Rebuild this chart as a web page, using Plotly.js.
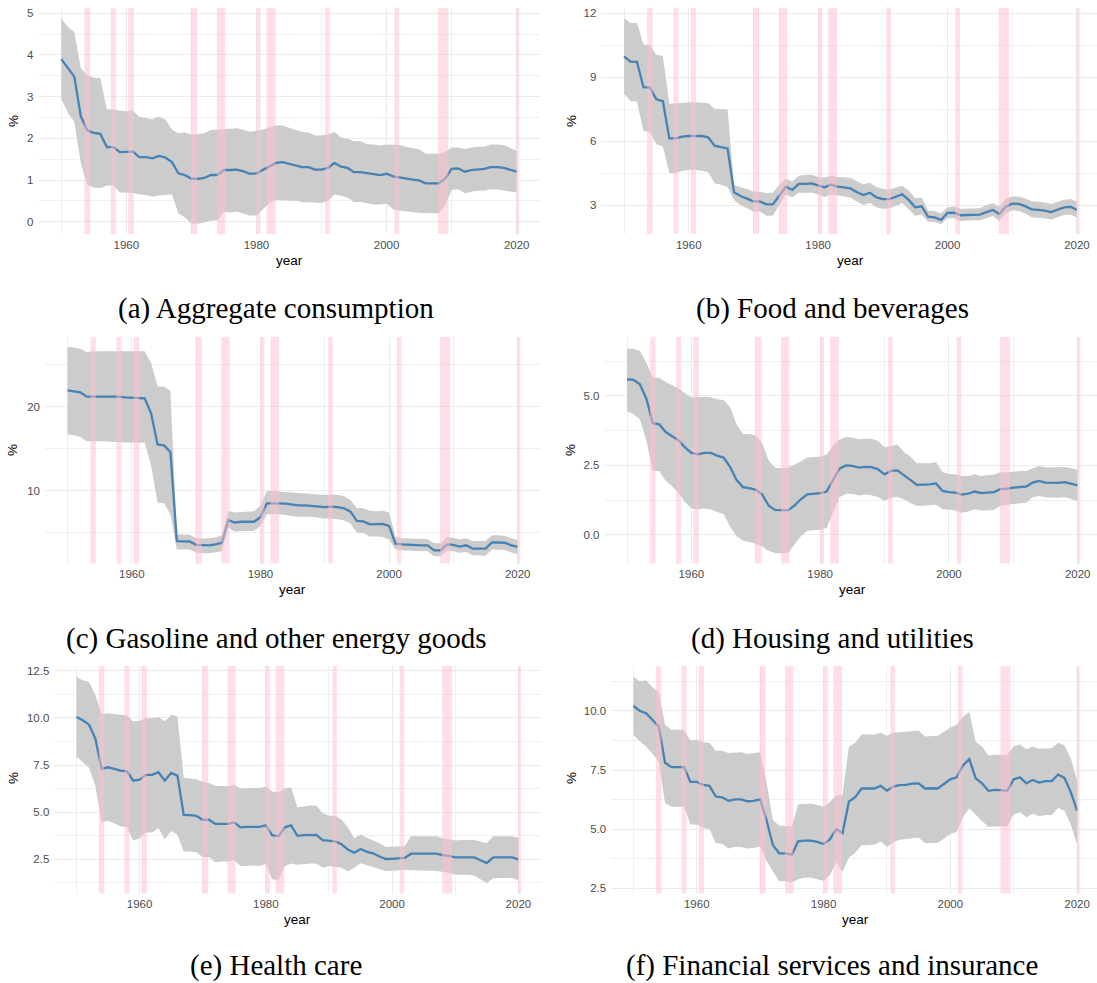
<!DOCTYPE html>
<html>
<head>
<meta charset="utf-8">
<script src="https://cdn.plot.ly/plotly-3.0.1.min.js"></script>
<style>
  html, body { margin: 0; padding: 0; background: #ffffff; }
  #chart { width: 1097px; height: 983px; }
</style>
</head>
<body>
<div id="chart"></div>
<script>
// Annual estimates 1950-2020 with confidence band, six spending categories
const years = [];
for (let y = 1950; y <= 2020; y++) years.push(y);

// NBER recession periods (fractional years)
const recStart = [1953.55, 1957.62, 1960.28, 1969.92, 1973.92, 1980.0, 1981.55, 1990.55, 2001.2, 2007.92, 2019.95];
const recEnd   = [1954.42, 1958.38, 1961.15, 1970.88, 1975.22, 1980.62, 1982.92, 1991.25, 2001.92, 2009.5, 2020.4];

// (a) Aggregate consumption
const aggMean = [3.9, 3.68, 3.48, 2.53, 2.19, 2.13, 2.11, 1.79, 1.79, 1.67,
  1.67, 1.68, 1.55, 1.55, 1.52, 1.58, 1.54, 1.43, 1.16, 1.12,
  1.03, 1.03, 1.05, 1.12, 1.12, 1.24, 1.24, 1.25, 1.21, 1.15,
  1.16, 1.25, 1.33, 1.41, 1.43, 1.39, 1.35, 1.31, 1.31, 1.25,
  1.25, 1.29, 1.41, 1.32, 1.29, 1.19, 1.19, 1.16, 1.14, 1.12,
  1.15, 1.09, 1.06, 1.04, 1.01, 0.99, 0.92, 0.92, 0.92, 1.03,
  1.27, 1.28, 1.2, 1.24, 1.25, 1.27, 1.31, 1.31, 1.29, 1.24, 1.2];
const aggHi = [4.88, 4.67, 4.56, 3.68, 3.52, 3.46, 3.45, 2.69, 2.7, 2.66,
  2.65, 2.67, 2.51, 2.49, 2.46, 2.52, 2.45, 2.21, 2.12, 2.14,
  2.1, 2.1, 2.13, 2.2, 2.21, 2.22, 2.23, 2.24, 2.2, 2.16,
  2.18, 2.21, 2.26, 2.31, 2.31, 2.26, 2.2, 2.15, 2.14, 2.07,
  2.07, 2.1, 2.15, 2.02, 1.99, 1.93, 1.93, 1.86, 1.85, 1.83,
  1.85, 1.85, 1.84, 1.8, 1.76, 1.74, 1.63, 1.63, 1.63, 1.68,
  1.78, 1.78, 1.74, 1.78, 1.8, 1.8, 1.85, 1.85, 1.84, 1.77, 1.7];
const aggLo = [2.95, 2.62, 2.4, 1.4, 0.88, 0.82, 0.8, 0.87, 0.86, 0.7,
  0.7, 0.69, 0.65, 0.64, 0.6, 0.63, 0.64, 0.66, 0.2, 0.1,
  -0.05, -0.05, -0.02, 0.02, 0.04, 0.24, 0.22, 0.24, 0.2, 0.15,
  0.15, 0.3, 0.45, 0.52, 0.52, 0.51, 0.5, 0.47, 0.47, 0.46,
  0.45, 0.5, 0.65, 0.62, 0.58, 0.47, 0.47, 0.44, 0.41, 0.41,
  0.43, 0.3, 0.26, 0.25, 0.23, 0.21, 0.2, 0.2, 0.2, 0.4,
  0.76, 0.78, 0.68, 0.72, 0.74, 0.74, 0.77, 0.77, 0.75, 0.72, 0.7];

// (b) Food and beverages
const foodMean = [9.98, 9.73, 9.72, 8.53, 8.51, 7.96, 7.88, 6.13, 6.13, 6.21,
  6.24, 6.24, 6.24, 6.18, 5.79, 5.72, 5.66, 3.6, 3.42, 3.3,
  3.17, 3.17, 3.03, 3.03, 3.47, 3.86, 3.71, 3.99, 3.99, 4.02,
  3.92, 3.83, 3.96, 3.86, 3.83, 3.78, 3.6, 3.47, 3.58, 3.36,
  3.28, 3.28, 3.39, 3.5, 3.24, 2.89, 2.94, 2.45, 2.42, 2.3,
  2.63, 2.64, 2.52, 2.53, 2.53, 2.55, 2.67, 2.77, 2.58, 2.92,
  3.06, 3.05, 2.95, 2.8, 2.77, 2.74, 2.67, 2.77, 2.89, 2.92, 2.77];
const foodHi = [11.77, 11.55, 11.55, 10.55, 10.5, 10.05, 10.0, 7.75, 7.77, 7.8,
  7.82, 7.82, 7.8, 7.78, 7.52, 7.5, 7.48, 3.95, 3.83, 3.75,
  3.63, 3.62, 3.55, 3.58, 3.95, 4.25, 4.1, 4.38, 4.42, 4.42,
  4.32, 4.28, 4.38, 4.32, 4.3, 4.28, 4.12, 3.98, 4.05, 3.85,
  3.75, 3.73, 3.82, 3.9, 3.68, 3.32, 3.35, 2.73, 2.72, 2.6,
  2.9, 2.93, 2.82, 2.83, 2.83, 2.85, 3.0, 3.08, 2.93, 3.3,
  3.4, 3.4, 3.32, 3.18, 3.15, 3.12, 3.05, 3.15, 3.25, 3.28, 3.15];
const foodLo = [8.22, 7.88, 7.85, 6.48, 6.42, 5.85, 5.75, 4.5, 4.5, 4.6,
  4.66, 4.66, 4.62, 4.55, 4.02, 3.95, 3.85, 3.22, 3.0, 2.85,
  2.7, 2.7, 2.5, 2.5, 3.0, 3.5, 3.35, 3.58, 3.58, 3.58,
  3.5, 3.38, 3.5, 3.45, 3.4, 3.35, 3.15, 3.0, 3.1, 2.9,
  2.82, 2.85, 2.95, 3.1, 2.82, 2.5, 2.55, 2.22, 2.2, 2.1,
  2.38, 2.38, 2.25, 2.28, 2.28, 2.28, 2.38, 2.48, 2.25, 2.6,
  2.75, 2.72, 2.6, 2.42, 2.4, 2.38, 2.32, 2.42, 2.53, 2.55, 2.4];

// (c) Gasoline and other energy goods
const gasMean = [21.94, 21.85, 21.7, 21.2, 21.2, 21.2, 21.25, 21.2, 21.2, 21.1,
  21.05, 21.05, 21.0, 19.2, 15.5, 15.4, 14.6, 4.0, 3.95, 3.95,
  3.55, 3.5, 3.5, 3.6, 3.8, 6.5, 6.2, 6.3, 6.3, 6.3,
  6.85, 8.5, 8.5, 8.5, 8.45, 8.35, 8.25, 8.25, 8.2, 8.15,
  8.05, 8.1, 8.05, 7.9, 7.5, 6.4, 6.35, 6.0, 6.0, 6.05,
  5.8, 3.7, 3.6, 3.55, 3.55, 3.5, 3.5, 2.9, 2.9, 3.6,
  3.55, 3.35, 3.5, 3.1, 3.1, 3.1, 3.85, 3.85, 3.8, 3.5, 3.3];
const gasHi = [27.1, 27.05, 26.9, 26.5, 26.6, 26.6, 26.6, 26.6, 26.6, 26.6,
  26.6, 26.6, 26.6, 25.2, 22.4, 22.4, 21.9, 4.8, 4.75, 4.75,
  4.35, 4.3, 4.35, 4.45, 4.65, 7.6, 7.4, 7.45, 7.45, 7.55,
  8.2, 9.95, 9.95, 9.9, 9.85, 9.75, 9.7, 9.7, 9.65, 9.6,
  9.5, 9.55, 9.5, 9.35, 8.9, 7.95, 7.9, 7.6, 7.55, 7.6,
  7.4, 4.5, 4.35, 4.3, 4.3, 4.25, 4.25, 3.75, 3.75, 4.45,
  4.4, 4.2, 4.35, 4.0, 4.0, 4.0, 4.7, 4.7, 4.6, 4.35, 4.1];
const gasLo = [16.7, 16.6, 16.4, 15.9, 15.9, 15.9, 15.9, 15.8, 15.8, 15.75,
  15.7, 15.7, 15.7, 13.0, 8.6, 8.5, 7.2, 3.0, 3.0, 3.0,
  2.65, 2.55, 2.55, 2.65, 2.8, 5.6, 5.1, 5.2, 5.2, 5.2,
  5.8, 7.2, 7.2, 7.2, 7.1, 7.0, 6.9, 6.9, 6.9, 6.8,
  6.7, 6.7, 6.6, 6.45, 6.1, 5.0, 4.95, 4.55, 4.55, 4.5,
  4.2, 3.0, 2.9, 2.85, 2.85, 2.8, 2.8, 2.2, 2.2, 2.85,
  2.8, 2.6, 2.7, 2.3, 2.3, 2.25, 3.0, 3.0, 2.95, 2.65, 2.45];

// (d) Housing and utilities
const houseMean = [5.6, 5.58, 5.42, 4.9, 4.02, 3.98, 3.7, 3.55, 3.4, 3.15,
  2.95, 2.9, 2.95, 2.95, 2.85, 2.78, 2.45, 1.98, 1.72, 1.68,
  1.62, 1.45, 1.05, 0.9, 0.88, 0.88, 1.05, 1.28, 1.46, 1.48,
  1.5, 1.56, 1.98, 2.38, 2.5, 2.48, 2.42, 2.45, 2.44, 2.36,
  2.18, 2.3, 2.32, 2.16, 1.98, 1.8, 1.8, 1.82, 1.85, 1.58,
  1.54, 1.52, 1.45, 1.48, 1.56, 1.5, 1.52, 1.54, 1.65, 1.66,
  1.7, 1.72, 1.74, 1.88, 1.94, 1.88, 1.87, 1.87, 1.9, 1.84, 1.78];
const houseHi = [6.7, 6.7, 6.62, 6.2, 5.65, 5.65, 5.5, 5.38, 5.28, 5.1,
  4.95, 4.95, 4.97, 4.95, 4.88, 4.85, 4.6, 3.98, 3.63, 3.63,
  3.58, 3.3, 2.68, 2.42, 2.4, 2.42, 2.52, 2.65, 2.78, 2.8,
  2.82, 2.88, 3.22, 3.42, 3.52, 3.5, 3.44, 3.46, 3.46, 3.38,
  3.15, 3.2, 3.25, 2.98, 2.82, 2.58, 2.58, 2.58, 2.62, 2.25,
  2.2, 2.18, 2.12, 2.12, 2.18, 2.12, 2.15, 2.16, 2.25, 2.24,
  2.27, 2.3, 2.3, 2.4, 2.48, 2.42, 2.42, 2.42, 2.44, 2.4, 2.34];
const houseLo = [4.45, 4.35, 4.15, 3.4, 2.3, 2.3, 1.95, 1.75, 1.5, 1.18,
  0.95, 0.92, 0.95, 0.92, 0.82, 0.75, 0.3, -0.05, -0.2, -0.25,
  -0.32, -0.42, -0.58, -0.65, -0.66, -0.65, -0.35, -0.05, 0.15, 0.17,
  0.18, 0.25, 0.8, 1.35, 1.48, 1.47, 1.42, 1.45, 1.43, 1.35,
  1.22, 1.34, 1.36, 1.28, 1.15, 1.05, 1.05, 1.06, 1.08, 0.92,
  0.9, 0.88, 0.8, 0.84, 0.92, 0.88, 0.88, 0.9, 1.05, 1.08,
  1.12, 1.14, 1.16, 1.35, 1.4, 1.35, 1.34, 1.34, 1.36, 1.28, 1.22];

// (e) Health care
const healthMean = [10.05, 9.87, 9.64, 8.9, 7.3, 7.38, 7.3, 7.2, 7.17, 6.67,
  6.72, 6.98, 6.98, 7.12, 6.67, 7.08, 6.94, 4.86, 4.85, 4.8,
  4.6, 4.6, 4.38, 4.38, 4.38, 4.46, 4.2, 4.22, 4.22, 4.22,
  4.3, 3.78, 3.72, 4.2, 4.3, 3.75, 3.78, 3.8, 3.8, 3.52,
  3.48, 3.45, 3.3, 3.02, 2.85, 3.05, 2.9, 2.82, 2.65, 2.52,
  2.53, 2.55, 2.58, 2.8, 2.8, 2.8, 2.8, 2.8, 2.72, 2.68,
  2.6, 2.6, 2.6, 2.6, 2.45, 2.3, 2.6, 2.6, 2.6, 2.6, 2.5];
const healthHi = [12.2, 12.0, 11.9, 11.2, 10.2, 10.25, 10.2, 10.15, 10.12, 9.82,
  9.85, 9.98, 9.98, 10.05, 9.82, 10.15, 10.08, 6.82, 6.8, 6.75,
  6.6, 6.55, 6.4, 6.38, 6.38, 6.45, 6.25, 6.28, 6.28, 6.28,
  6.35, 6.1, 6.05, 6.25, 6.32, 5.25, 5.3, 5.35, 5.35, 4.95,
  4.82, 4.8, 4.6, 4.2, 3.62, 3.82, 3.65, 3.52, 3.35, 3.15,
  3.15, 3.18, 3.2, 3.72, 3.72, 3.72, 3.72, 3.72, 3.62, 3.55,
  3.5, 3.52, 3.52, 3.52, 3.45, 3.35, 3.72, 3.72, 3.72, 3.72, 3.65];
const healthLo = [7.95, 7.65, 7.35, 6.4, 4.45, 4.55, 4.4, 4.25, 4.22, 3.5,
  3.6, 3.92, 3.92, 4.15, 3.55, 4.0, 3.8, 2.92, 2.92, 2.88,
  2.62, 2.62, 2.35, 2.38, 2.38, 2.45, 2.15, 2.18, 2.18, 2.15,
  2.25, 1.45, 1.38, 2.15, 2.28, 2.22, 2.25, 2.28, 2.28, 2.05,
  2.15, 2.12, 2.05, 1.85, 2.05, 2.3, 2.2, 2.12, 1.98, 1.88,
  1.88, 1.9, 1.95, 1.92, 1.9, 1.9, 1.9, 1.9, 1.82, 1.78,
  1.68, 1.68, 1.68, 1.65, 1.45, 1.25, 1.5, 1.52, 1.52, 1.52, 1.38];

// (f) Financial services and insurance
const finMean = [10.21, 10.01, 9.9, 9.62, 9.34, 7.81, 7.62, 7.62, 7.62, 7.0,
  7.0, 6.87, 6.83, 6.38, 6.35, 6.2, 6.26, 6.26, 6.18, 6.2,
  6.26, 5.39, 4.33, 3.98, 3.98, 3.92, 4.49, 4.52, 4.52, 4.46,
  4.37, 4.57, 5.0, 4.83, 6.17, 6.35, 6.72, 6.72, 6.72, 6.83,
  6.63, 6.8, 6.86, 6.87, 6.93, 6.94, 6.72, 6.73, 6.72, 6.91,
  7.11, 7.19, 7.7, 7.96, 7.15, 6.94, 6.62, 6.66, 6.63, 6.63,
  7.11, 7.19, 6.94, 7.08, 6.97, 7.03, 7.03, 7.31, 7.17, 6.57, 5.78];
const finHi = [11.45, 11.25, 11.3, 11.0, 10.8, 9.41, 9.2, 9.2, 9.2, 8.75,
  8.78, 8.68, 8.65, 8.32, 8.32, 8.22, 8.25, 8.25, 8.18, 8.2,
  8.25, 7.0, 5.4, 5.15, 5.15, 5.12, 6.05, 6.08, 6.08, 6.02,
  5.95, 6.15, 6.42, 6.45, 8.5, 8.65, 9.0, 9.0, 9.0, 9.08,
  8.95, 9.08, 9.1, 9.12, 9.15, 9.17, 8.92, 8.95, 8.95, 9.12,
  9.3, 9.42, 9.75, 9.95, 8.7, 8.5, 8.12, 8.15, 8.15, 8.15,
  8.5, 8.58, 8.38, 8.5, 8.4, 8.42, 8.42, 8.65, 8.55, 8.0, 7.05];
const finLo = [8.98, 8.72, 8.5, 8.2, 7.85, 6.1, 5.95, 5.95, 5.95, 5.2,
  5.2, 5.05, 5.0, 4.4, 4.38, 4.18, 4.25, 4.25, 4.18, 4.2,
  4.28, 3.65, 3.25, 2.8, 2.8, 2.75, 2.88, 2.95, 2.95, 2.88,
  2.82, 3.05, 3.6, 3.2, 3.8, 4.0, 4.32, 4.32, 4.35, 4.48,
  4.25, 4.45, 4.55, 4.58, 4.62, 4.65, 4.42, 4.42, 4.42, 4.6,
  4.8, 4.88, 5.5, 5.88, 5.6, 5.35, 5.1, 5.12, 5.12, 5.12,
  5.62, 5.72, 5.5, 5.65, 5.55, 5.6, 5.6, 5.9, 5.78, 5.2, 4.35];

const captions = [
  "(a) Aggregate consumption",
  "(b) Food and beverages",
  "(c) Gasoline and other energy goods",
  "(d) Housing and utilities",
  "(e) Health care",
  "(f) Financial services and insurance"
];

const series = [
  {mean: aggMean, lo: aggLo, hi: aggHi},
  {mean: foodMean, lo: foodLo, hi: foodHi},
  {mean: gasMean, lo: gasLo, hi: gasHi},
  {mean: houseMean, lo: houseLo, hi: houseHi},
  {mean: healthMean, lo: healthLo, hi: healthHi},
  {mean: finMean, lo: finLo, hi: finHi}
];

// Panel geometry in pixels (left, right, top, bottom), axis ranges and tick spacing
const W = 1097, H = 983;
const panels = [
  {l: 38.5,  r: 539.5, t: 8,   b: 234,   xr: [1946.5, 2023.5], yr: [-0.295, 5.127], dt: 1,   mdt: 0.5,  fmt: "d",   capX: 276, capY: 308, yl: 13,  yly: 121},
  {l: 601.4, r: 1097,  t: 8,   b: 234,   xr: [1946.5, 2023.1], yr: [1.64, 12.25],    dt: 3,   mdt: 1.5,  fmt: "d",   capX: 832, capY: 308, yl: 571, yly: 121},
  {l: 45,    r: 540.2, t: 337, b: 563.5, xr: [1946.5, 2023.5], yr: [1.33, 28.3],     dt: 10,  mdt: 5,    fmt: "d",   capX: 276, capY: 638, yl: 13,  yly: 450},
  {l: 604.5, r: 1097,  t: 337, b: 563.5, xr: [1946.5, 2023.0], yr: [-1.03, 7.12],    dt: 2.5, mdt: 1.25, fmt: ".1f", capX: 832, capY: 638, yl: 571, yly: 450},
  {l: 54.3,  r: 540.5, t: 666, b: 893.5, xr: [1946.5, 2023.5], yr: [0.69, 12.75],    dt: 2.5, mdt: 1.25, fmt: ".1f", capX: 276, capY: 965, yl: 13,  yly: 778},
  {l: 611.2, r: 1097,  t: 666, b: 893.5, xr: [1946.5, 2023.14], yr: [2.28, 11.9],    dt: 2.5, mdt: 1.25, fmt: ".1f", capX: 832, capY: 965, yl: 571, yly: 778}
];

const tickFont = {family: "Liberation Sans, Arial, sans-serif", size: 11.5, color: "#4D4D4D"};
const titleFont = {family: "Liberation Sans, Arial, sans-serif", size: 13.5, color: "#000000"};
const capFont = {family: "Liberation Serif, Times New Roman, serif", size: 29, color: "#000000"};
const gridCol = "#EBEBEB";

const data = [];
const shapes = [];
const annotations = [];
const layout = {
  width: W, height: H,
  margin: {l: 0, r: 0, t: 0, b: 0},
  paper_bgcolor: "#ffffff",
  plot_bgcolor: "#ffffff",
  showlegend: false,
  hovermode: false
};

panels.forEach((p, i) => {
  const n = i === 0 ? "" : String(i + 1);
  const xa = "x" + n, ya = "y" + n;
  const s = series[i];

  // confidence band as one closed polygon
  data.push({
    type: "scatter", mode: "lines",
    x: years.concat(years.slice().reverse()),
    y: s.hi.concat(s.lo.slice().reverse()),
    fill: "toself", fillcolor: "#CCCCCC",
    line: {width: 0, color: "rgba(0,0,0,0)"},
    xaxis: xa, yaxis: ya
  });
  // point estimate
  data.push({
    type: "scatter", mode: "lines",
    x: years, y: s.mean,
    line: {color: "#4682B4", width: 2.3},
    xaxis: xa, yaxis: ya
  });

  // recession shading on top
  recStart.forEach((r0, k) => {
    shapes.push({
      type: "rect", layer: "above",
      xref: xa, yref: ya + " domain",
      x0: r0, x1: recEnd[k], y0: 0, y1: 1,
      fillcolor: "#FFC0CB", opacity: 0.5, line: {width: 0}
    });
  });

  layout["xaxis" + n] = {
    domain: [p.l / W, p.r / W],
    range: p.xr,
    anchor: ya,
    tick0: 1960, dtick: 20,
    ticks: "", showline: false, zeroline: false,
    showgrid: true, gridcolor: gridCol, gridwidth: 1,
    minor: {tick0: 1950, dtick: 10, showgrid: true, gridcolor: gridCol, gridwidth: 0.8},
    tickfont: tickFont,
    ticklabelstandoff: 2,
    fixedrange: true
  };
  layout["yaxis" + n] = {
    domain: [1 - p.b / H, 1 - p.t / H],
    range: p.yr,
    anchor: xa,
    tick0: 0, dtick: p.dt,
    tickformat: p.fmt,
    ticks: "", showline: false, zeroline: false,
    showgrid: true, gridcolor: gridCol, gridwidth: 1,
    minor: {tick0: 0, dtick: p.mdt, showgrid: true, gridcolor: gridCol, gridwidth: 0.8},
    tickfont: tickFont,
    ticklabelstandoff: 4,
    fixedrange: true
  };

  // axis titles
  annotations.push({
    xref: "paper", yref: "paper",
    x: ((p.l + p.r + (i % 2 === 1 ? 3 : 0)) / 2) / W, y: 1 - (p.b + 26) / H,
    text: "year", showarrow: false, font: titleFont,
    xanchor: "center", yanchor: "middle"
  });
  annotations.push({
    xref: "paper", yref: "paper",
    x: p.yl / W, y: 1 - p.yly / H,
    text: "%", textangle: -90, showarrow: false, font: titleFont,
    xanchor: "center", yanchor: "middle"
  });
  // panel caption
  annotations.push({
    xref: "paper", yref: "paper",
    x: p.capX / W, y: 1 - p.capY / H,
    text: captions[i], showarrow: false, font: capFont,
    xanchor: "center", yanchor: "middle"
  });
});

layout.shapes = shapes;
layout.annotations = annotations;

Plotly.newPlot("chart", data, layout, {staticPlot: true, displayModeBar: false});
</script>
</body>
</html>
